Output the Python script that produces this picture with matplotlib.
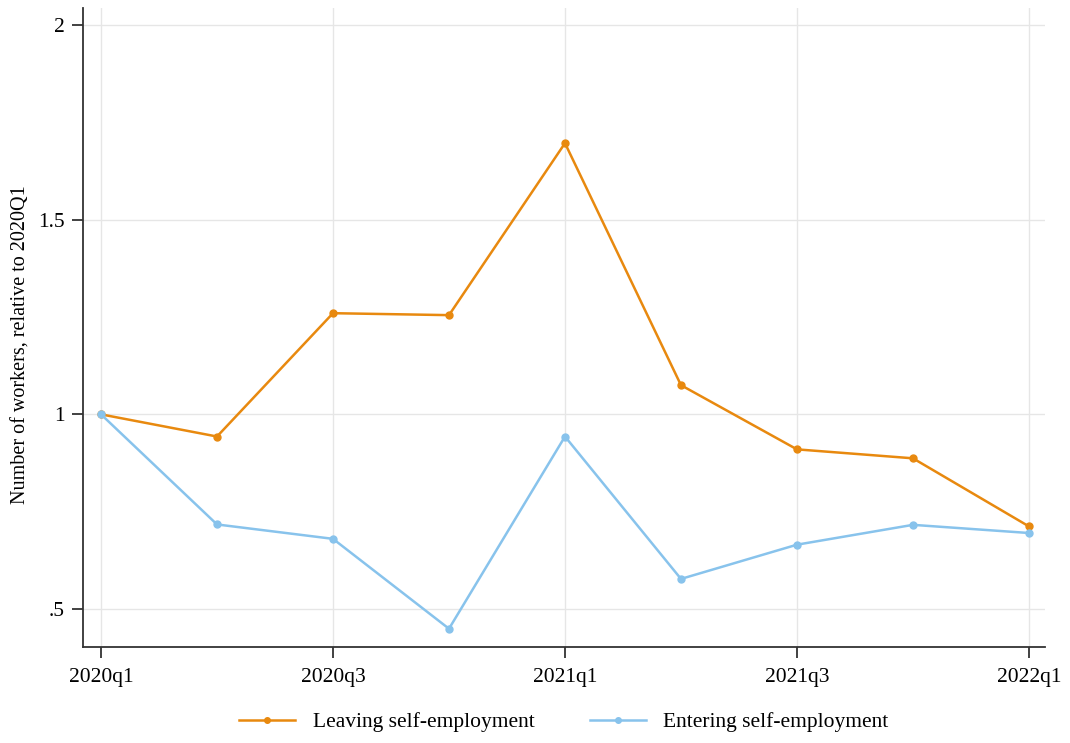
import matplotlib
matplotlib.use("Agg")
import matplotlib.pyplot as plt

plt.rcParams["font.family"] = ["Liberation Serif", "DejaVu Serif"]

QUARTERS = ["2020q1", "2020q2", "2020q3", "2020q4", "2021q1",
            "2021q2", "2021q3", "2021q4", "2022q1"]
LEAVING = [1.0, 0.943, 1.26, 1.255, 1.697, 1.075, 0.91, 0.887, 0.712]
ENTERING = [1.0, 0.717, 0.68, 0.449, 0.943, 0.577, 0.665, 0.716, 0.695]

ORANGE = "#E8890F"
BLUE = "#88C3EC"

fig = plt.figure(figsize=(10.7, 7.43), dpi=100)
ax = fig.add_axes([0.0776, 0.1292, 0.8990, 0.8598])

x = list(range(len(QUARTERS)))
ax.plot(x, LEAVING, color=ORANGE, lw=1.8, marker="o", ms=5,
        label="Leaving self-employment", zorder=3)
ax.plot(x, ENTERING, color=BLUE, lw=1.8, marker="o", ms=5,
        label="Entering self-employment", zorder=3)

ax.set_xlim(-0.155, 8.138)
ax.set_ylim(0.402, 2.044)
ax.set_xticks(x[::2])
ax.set_xticklabels(QUARTERS[::2])
ax.set_yticks([0.5, 1, 1.5, 2])
ax.set_yticklabels([".5", "1", "1.5", "2"])

ax.grid(True, color="#e6e6e6", lw=1.0, zorder=0)
for s in ("top", "right"):
    ax.spines[s].set_visible(False)
for s in ("left", "bottom"):
    ax.spines[s].set_color("#333333")
    ax.spines[s].set_linewidth(1.3)
ax.tick_params(direction="out", length=8, width=1.3, color="#333333",
               labelsize=15.5)
ax.tick_params(axis="x", pad=7)
ax.tick_params(axis="y", pad=5)

ax.set_ylabel("Number of workers, relative to 2020Q1", fontsize=14.5)
ax.yaxis.set_label_coords(-0.055, 0.473)

ax.legend(loc="upper center", bbox_to_anchor=(0.5, -0.072), ncol=2,
          frameon=False, fontsize=15.5, columnspacing=2.6, handlelength=2.6,
          markerscale=0.8)

fig.savefig("out.png", dpi=100)
